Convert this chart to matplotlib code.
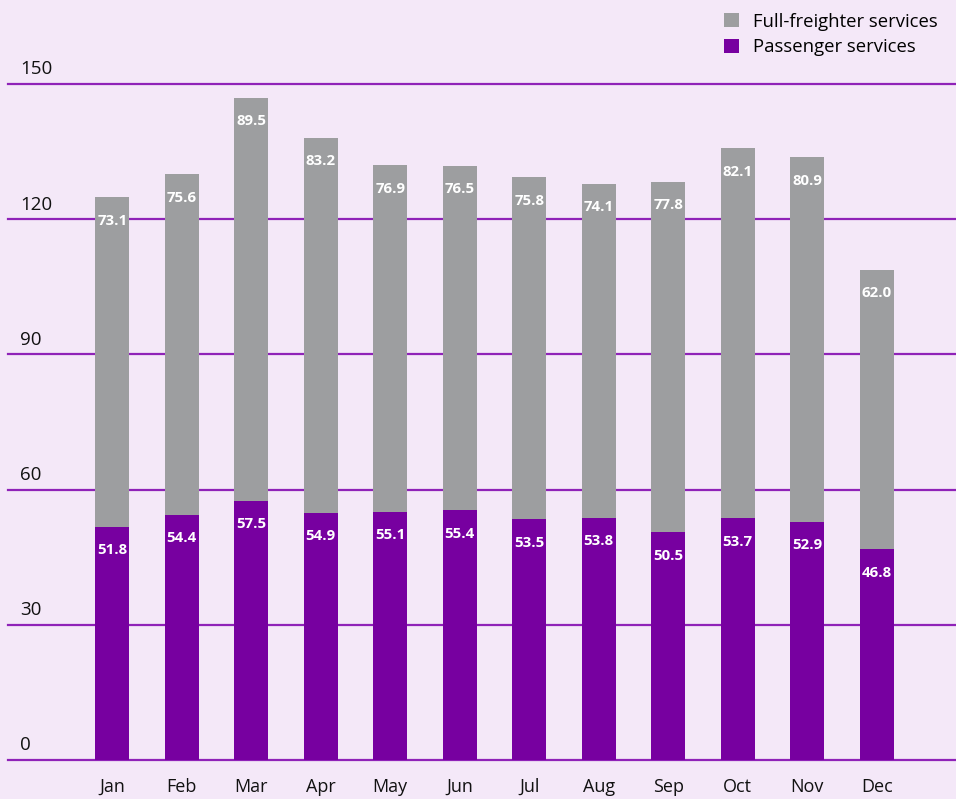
import matplotlib.pyplot as plt
import matplotlib.transforms as mtransforms
import numpy as np

months = ["Jan", "Feb", "Mar", "Apr", "May", "Jun", "Jul", "Aug", "Sep", "Oct", "Nov", "Dec"]
passenger = [51.8, 54.4, 57.5, 54.9, 55.1, 55.4, 53.5, 53.8, 50.5, 53.7, 52.9, 46.8]
freighter = [73.1, 75.6, 89.5, 83.2, 76.9, 76.5, 75.8, 74.1, 77.8, 82.1, 80.9, 62.0]
yticks = [0, 30, 60, 90, 120, 150]

bg = "#f4e8f8"
purple = "#7700a0"
grey = "#9d9ea0"
gridc = "#8f22b8"

plt.rcParams['font.family'] = ['Open Sans', 'DejaVu Sans']

fig = plt.figure(figsize=(9.56, 7.99), dpi=100, facecolor=bg)
ax = fig.add_axes([8 / 956, (799 - 760) / 799, 948 / 956, (760 - 84) / 799])
ax.set_facecolor(bg)

x = np.arange(len(months))
ax.set_xlim(-1.5, 12.14)
ax.set_ylim(0, 150)

# gridlines + value labels sitting above them
lbl_tr = mtransforms.blended_transform_factory(ax.transAxes, ax.transData) + \
    mtransforms.ScaledTranslation(0, 4 / 72, fig.dpi_scale_trans)
for t in yticks:
    ax.axhline(t, color=gridc, lw=1.6, zorder=1, clip_on=False)
    ax.text(0.0127, t, str(t), transform=lbl_tr, ha='left', va='bottom', fontsize=13.5, color='#111111')

b1 = ax.bar(x, passenger, width=0.49, color=purple, zorder=2, label="Passenger services")
b2 = ax.bar(x, freighter, width=0.49, bottom=passenger, color=grey, zorder=2, label="Full-freighter services")

for i in range(len(months)):
    ax.annotate(f"{passenger[i]:.1f}", (x[i], passenger[i]), xytext=(0, -17), textcoords='offset points',
                ha='center', va='center', color='white', fontsize=10.8, fontweight='bold', zorder=3)
    ax.annotate(f"{freighter[i]:.1f}", (x[i], passenger[i] + freighter[i]), xytext=(0, -17),
                textcoords='offset points', ha='center', va='center', color='white', fontsize=10.8,
                fontweight='bold', zorder=3)

for s in ax.spines.values():
    s.set_visible(False)
ax.set_yticks([])
ax.set_xticks(x)
ax.set_xticklabels(months, fontsize=13)
ax.tick_params(axis='x', length=0, pad=13, colors='#111111')

leg = fig.legend(handles=[b2, b1], loc='upper right', bbox_to_anchor=(0.998, 1.005), frameon=False,
                 fontsize=13.3, handlelength=0.8, handleheight=0.8, handletextpad=0.75, labelspacing=0.4)

fig.savefig("out.png", dpi=100, facecolor=bg)
